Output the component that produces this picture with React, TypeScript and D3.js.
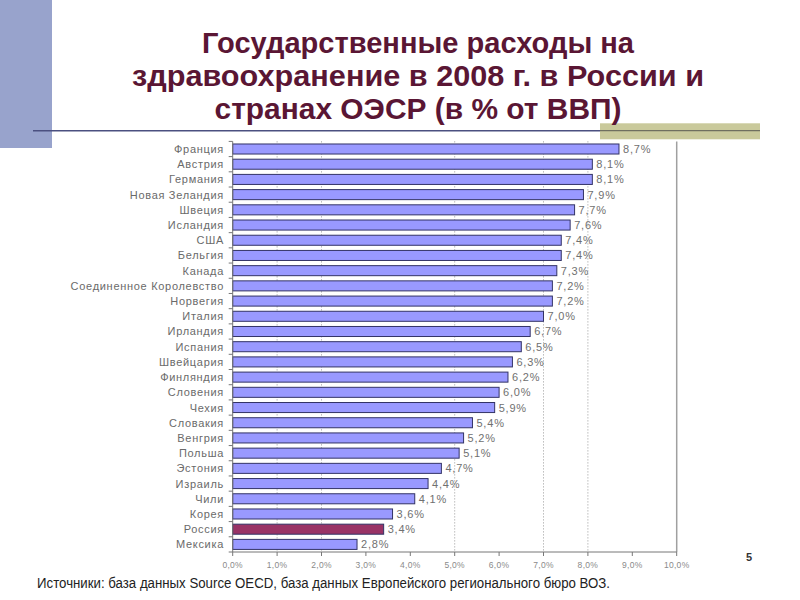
import React from "react";
import * as d3 from "d3";

const countries = [
  "Франция", "Австрия", "Германия", "Новая Зеландия", "Швеция", "Исландия", "США",
  "Бельгия", "Канада", "Соединенное Королевство", "Норвегия", "Италия", "Ирландия",
  "Испания", "Швейцария", "Финляндия", "Словения", "Чехия", "Словакия", "Венгрия",
  "Польша", "Эстония", "Израиль", "Чили", "Корея", "Россия", "Мексика",
];
const values = [
  8.7, 8.1, 8.1, 7.9, 7.7, 7.6, 7.4,
  7.4, 7.3, 7.2, 7.2, 7.0, 6.7,
  6.5, 6.3, 6.2, 6.0, 5.9, 5.4, 5.2,
  5.1, 4.7, 4.4, 4.1, 3.6, 3.4, 2.8,
];
const highlight = "Россия";
const xTicks = [0, 1, 2, 3, 4, 5, 6, 7, 8, 9, 10];
const gridTicks = [1, 2, 5, 7, 8];
const titleLines = [
  "Государственные расходы на",
  "здравоохранение в 2008 г. в России и",
  "странах ОЭСР (в % от ВВП)",
];
const titleWidths = [432, 572, 407];
const sourceText =
  "Источники: база данных Source OECD, база данных Европейского регионального бюро ВОЗ.";
const pageNumber = "5";

const fmt = (v: number) => v.toFixed(1).replace(".", ",") + "%";

export default function App() {
  const x = d3.scaleLinear().domain([0, 10]).range([232.7, 676.7]);
  const y = d3
    .scaleBand<string>()
    .domain(countries)
    .range([141.4, 552])
    .paddingInner(0.34)
    .paddingOuter(0.17);
  const band = y.step();
  const [y0, y1] = y.range();

  return (
    <svg
      width={800}
      height={600}
      style={{ position: "absolute", left: 0, top: 0, background: "#fff" }}
      fontFamily="'Liberation Sans', Arial, sans-serif"
    >
      {/* decoration */}
      <rect x={0} y={0} width={52} height={148} fill="#98a3cc" />
      <line x1={33} x2={760} y1={130.7} y2={130.7} stroke="#4b5080" strokeWidth={1.5} />
      <rect x={600} y={123.3} width={160} height={16} fill="#c9c99b" />
      <line x1={600} x2={760} y1={130.7} y2={130.7} stroke="#6f6f60" strokeWidth={1.2} />

      {/* title */}
      {titleLines.map((t, i) => (
        <text
          key={i}
          x={418}
          y={53 + i * 33}
          textAnchor="middle"
          fontSize={29}
          fontWeight="bold"
          fill="#5a1634"
          textLength={titleWidths[i]}
          lengthAdjust="spacingAndGlyphs"
        >
          {t}
        </text>
      ))}

      {/* grid */}
      {gridTicks.map((t) => (
        <line
          key={t}
          x1={x(t)}
          x2={x(t)}
          y1={y0}
          y2={y1}
          stroke="#999"
          strokeWidth={1}
          strokeDasharray="1,2"
        />
      ))}
      <line x1={x(10)} x2={x(10)} y1={y0} y2={y1} stroke="#a0a0a0" strokeWidth={1.5} />

      {/* bars */}
      {countries.map((c, i) => (
        <g key={c}>
          <rect
            x={x(0)}
            y={y(c)!}
            width={x(values[i]) - x(0)}
            height={y.bandwidth()}
            fill={c === highlight ? "#993366" : "#9999ff"}
            stroke="#333366"
            strokeWidth={1}
          />
          <text
            x={x(values[i]) + 4}
            y={y(c)! + y.bandwidth() / 2 + 4}
            fontSize={11}
            letterSpacing={0.8}
            fill="#707070"
          >
            {fmt(values[i])}
          </text>
          <text
            x={224}
            y={y(c)! + y.bandwidth() / 2 + 4}
            fontSize={11}
            letterSpacing={0.7}
            textAnchor="end"
            fill="#6a6a6a"
          >
            {c}
          </text>
        </g>
      ))}

      {/* y axis */}
      <line x1={x(0)} x2={x(0)} y1={y0} y2={y1} stroke="#777" strokeWidth={1} />
      {d3.range(countries.length + 1).map((i) => (
        <line
          key={i}
          x1={x(0) - 4}
          x2={x(0)}
          y1={y0 + i * band}
          y2={y0 + i * band}
          stroke="#777"
          strokeWidth={1}
        />
      ))}

      {/* x axis */}
      <line x1={x(0)} x2={x(10)} y1={y1} y2={y1} stroke="#777" strokeWidth={1} />
      {xTicks.map((t) => (
        <g key={t}>
          <line x1={x(t)} x2={x(t)} y1={y1} y2={y1 + 4} stroke="#777" strokeWidth={1} />
          <text
            x={x(t)}
            y={y1 + 16}
            fontSize={8.5}
            textAnchor="middle"
            letterSpacing={0.3}
            fill="#8a8a8a"
          >
            {t.toFixed(1).replace(".", ",") + "%"}
          </text>
        </g>
      ))}

      {/* page number */}
      <text x={749} y={561} fontSize={11} fontWeight="bold" textAnchor="middle" fill="#333">
        {pageNumber}
      </text>

      {/* source */}
      <text
        x={37}
        y={588}
        fontSize={14}
        fontFamily="'Liberation Sans Narrow', 'Liberation Sans', Arial, sans-serif"
        fill="#222"
        textLength={573}
        lengthAdjust="spacingAndGlyphs"
      >
        {sourceText}
      </text>
    </svg>
  );
}
